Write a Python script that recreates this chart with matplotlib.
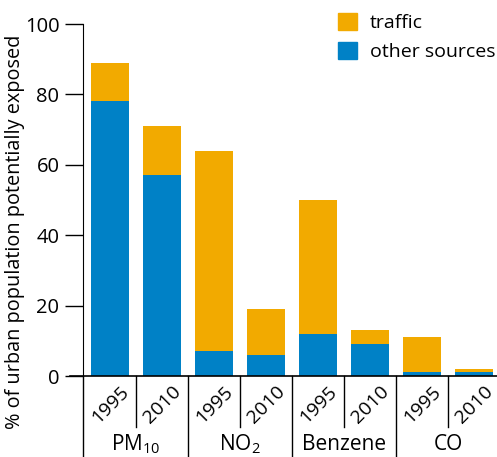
import matplotlib.pyplot as plt
import matplotlib.transforms as mtransforms
from matplotlib.patches import Patch

plt.rcParams['font.family'] = ['Open Sans', 'DejaVu Sans']
plt.rcParams['mathtext.fontset'] = 'custom'
plt.rcParams['mathtext.rm'] = 'Open Sans'
plt.rcParams['mathtext.it'] = 'Open Sans'

# data
pollutants = ['PM$_{10}$', 'NO$_2$', 'Benzene', 'CO']
years = ['1995', '2010'] * 4
other_sources = [78, 57, 7, 6, 12, 9, 1, 1]
traffic = [11, 14, 57, 13, 38, 4, 10, 1]

orange = '#F2AA00'
blue = '#0081C6'

fig = plt.figure(figsize=(4.97, 4.57), dpi=100)
ax = fig.add_axes([83 / 497, 1 - 376 / 457, 414 / 497, 352 / 457])

x = list(range(len(years)))
ax.bar(x, other_sources, width=0.73, color=blue)
ax.bar(x, traffic, width=0.73, bottom=other_sources, color=orange)

ax.set_xlim(-0.52, 7.44)
ax.set_ylim(0, 100)
ax.set_yticks([0, 20, 40, 60, 80, 100])
ax.tick_params(axis='y', length=13, width=1, labelsize=14.5, pad=4)
ax.tick_params(axis='x', length=0, labelbottom=False)
for s in ['top', 'right', 'bottom']:
    ax.spines[s].set_visible(False)

# baseline extending left
ax.plot([-0.77, 7.44], [0, 0], color='black', lw=1.2, clip_on=False)

trans = mtransforms.blended_transform_factory(ax.transData, ax.transAxes)
# left spine extension and group separators
for xs in [-0.52, 1.5, 3.5, 5.5]:
    ax.plot([xs, xs], [0, -0.23], color='black', lw=1, transform=trans, clip_on=False)
for xs in [0.5, 2.5, 4.5, 6.5]:
    ax.plot([xs, xs], [0, -0.145], color='black', lw=1, transform=trans, clip_on=False)

# year labels
for xi, yr in zip(x, years):
    ax.text(xi + 0.01, -0.082, yr, rotation=45, ha='center', va='center',
            fontsize=14, transform=trans)

# pollutant labels
for i, p in enumerate(pollutants):
    ax.text(2 * i + 0.5, -0.195, p, ha='center', va='center', fontsize=15, transform=trans)

ax.set_ylabel('% of urban population potentially exposed', fontsize=14.3)
ax.yaxis.set_label_coords(-0.14, 0.41)

handles = [Patch(color=orange, label='traffic'), Patch(color=blue, label='other sources')]
fig.legend(handles=handles, loc='upper left', bbox_to_anchor=(338 / 497, 1 - 13 / 457),
           frameon=False, fontsize=14, handlelength=1.0, handleheight=1.0,
           handletextpad=0.65, labelspacing=0.47, borderaxespad=0, borderpad=0)

fig.savefig('out.png', dpi=100)
